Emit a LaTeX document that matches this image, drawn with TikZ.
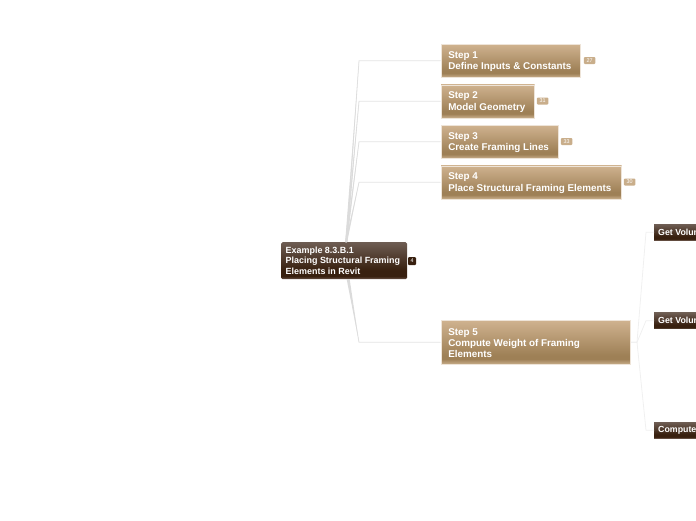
\documentclass[tikz,border=0pt]{standalone}
\usepackage{fontspec}
\setmainfont{Liberation Sans}
\definecolor{tanlight}{HTML}{CFB28F}
\definecolor{tandark}{HTML}{9E8056}
\definecolor{tanedge}{HTML}{C9AE8B}
\definecolor{brownlight}{HTML}{6E5D53}
\definecolor{browndark}{HTML}{38200F}
\definecolor{brownedge}{HTML}{6A5548}
\pgfdeclareverticalshading{stepshade}{100bp}{color(0bp)=(tanedge); color(25bp)=(tanedge); color(31bp)=(tandark); color(35bp)=(tandark); color(75bp)=(tanlight); color(100bp)=(tanlight)}
\pgfdeclareverticalshading{rootshade}{100bp}{color(0bp)=(brownedge); color(25bp)=(brownedge); color(29bp)=(browndark); color(37bp)=(browndark); color(75bp)=(brownlight); color(100bp)=(brownlight)}

\begin{document}
\begin{tikzpicture}[x=1pt,y=-1pt]
		\tikzstyle{stepbox}=[shading=stepshade,draw=tanlight!35,line width=0.6pt,anchor=north west,align=flush left,text=white,font=\fontsize{9.85}{11.3}\selectfont\bfseries,inner xsep=7.25pt,inner ysep=0pt,execute at begin node={\rule{0pt}{8.6pt}}]
		\tikzstyle{rootbox}=[shading=rootshade,rounded corners=1.5pt,anchor=north west,align=flush left,text=white,font=\fontsize{8.95}{10.4}\selectfont\bfseries,inner xsep=4.5pt,inner ysep=0pt]
		\tikzstyle{subbox}=[shading=rootshade,anchor=north west,align=flush left,text=white,font=\fontsize{8.8}{10}\selectfont\bfseries,inner xsep=4pt,inner ysep=0pt]
		\tikzstyle{tag}=[fill=tanedge,rounded corners=1pt,text=white,font=\fontsize{5.4}{6}\selectfont,minimum width=11.5pt,minimum height=7pt,inner sep=0pt]
		\tikzstyle{roottag}=[tag,fill=browndark,minimum width=8pt,minimum height=8pt]
		\tikzstyle{link}=[draw=black!11,line width=0.8pt]
		\tikzstyle{wedge}=[fill=black!14]
		\tikzstyle{sublink}=[draw=black!6,line width=0.8pt]

		\useasboundingbox (0,0) rectangle (696,520);
		\clip (0,0) rectangle (696,520);

		\node[rootbox,text width=117pt,minimum height=37pt](root) at (281,242){Example 8.3.B.1\\Placing Structural Framing\\Elements in Revit};
		\node[roottag](roottag) at (412,261){4};

		\node[stepbox,text width=125pt,minimum height=33pt](s1) at (440.7,44){Step 1\\Define Inputs \& Constants};
		\node[stepbox,text width=79pt,minimum height=33pt](s2) at (440.7,84.5){Step 2\\Model Geometry};
		\node[stepbox,text width=103pt,minimum height=33pt](s3) at (440.7,125){Step 3\\Create Framing Lines};
		\node[stepbox,text width=166pt,minimum height=33pt](s4) at (440.7,165.5){Step 4\\Place Structural Framing Elements};
		\node[stepbox,text width=175pt,minimum height=44pt](s5) at (440.7,320){Step 5\\Compute Weight of Framing\\Elements};

		\node[tag](t1) at (589.5,60.5){27};
		\node[tag](t2) at (542.5,101){31};
		\node[tag](t3) at (566.5,141.5){33};
		\node[tag](t4) at (629.5,182){30};

		\node[subbox,text width=62pt,minimum height=16pt](v1) at (654,224){Get Volume};
		\node[subbox,text width=62pt,minimum height=16pt](v2) at (654,312.5){Get Volume};
		\node[subbox,text width=62pt,minimum height=16pt](v3) at (654,422){Compute};

		\coordinate (b1) at (s1.west -| 359,0);
		\coordinate (b2) at (s2.west -| 359,0);
		\coordinate (b3) at (s3.west -| 359,0);
		\coordinate (b4) at (s4.west -| 359,0);
		\coordinate (b5) at (s5.west -| 359,0);
		\coordinate (fork) at (s5.east -| 637,0);
		\coordinate (c1) at (v1.west -| 646,0);
		\coordinate (c2) at (v2.west -| 646,0);
		\coordinate (c3) at (v3.west -| 646,0);

		\draw[link] ([xshift=2pt]root.north) -- (b1) -- (s1.west);
		\draw[link] ([xshift=2pt]root.north) -- (b2) -- (s2.west);
		\draw[link] ([xshift=2pt]root.north) -- (b3) -- (s3.west);
		\draw[link] ([xshift=2pt]root.north) -- (b4) -- (s4.west);
		\draw[link] ([xshift=4pt]root.south) -- (b5) -- (s5.west);

		% thick ends at the root
		\fill[wedge] ([xshift=1pt]root.north) -- (b1) -- ([xshift=3pt]root.north) -- cycle;
		\fill[wedge] ([xshift=1pt]root.north) -- (b2) -- ([xshift=3pt]root.north) -- cycle;
		\fill[wedge] ([xshift=1pt]root.north) -- (b3) -- ([xshift=3pt]root.north) -- cycle;
		\fill[wedge] ([xshift=1pt]root.north) -- (b4) -- ([xshift=3pt]root.north) -- cycle;
		\fill[wedge] ([xshift=2.5pt]root.south) -- (b5) -- ([xshift=5.5pt]root.south) -- cycle;

		\draw[sublink] (s5.east) -- (fork) -- (c1) -- (v1.west);
		\draw[sublink] (s5.east) -- (fork) -- (c2) -- (v2.west);
		\draw[sublink] (s5.east) -- (fork) -- (c3) -- (v3.west);
\end{tikzpicture}
\end{document}
